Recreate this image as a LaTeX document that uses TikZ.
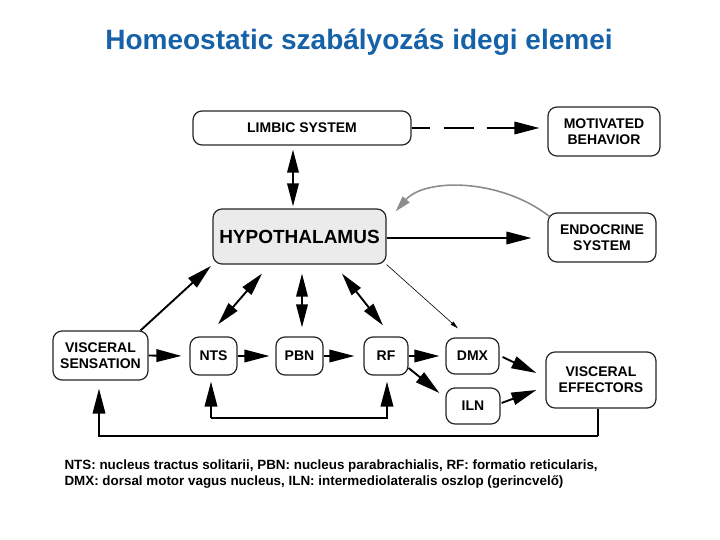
\documentclass[tikz,border=0pt]{standalone}
\usepackage{fontspec}
\setmainfont{Liberation Sans}
\usetikzlibrary{arrows.meta}
\definecolor{titleblue}{RGB}{22,98,168}
\tikzset{
  box/.style={draw=black!85, line width=1.2pt, rounded corners=9pt, fill=white,
    font=\bfseries\fontsize{14}{16}\selectfont, align=center, inner sep=0pt},
  arr/.style={line width=1.9pt, -{Triangle[length=25pt,width=12.5pt]}},
  dbl/.style={line width=1.9pt, {Triangle[length=23pt,width=11.5pt]}-{Triangle[length=23pt,width=11.5pt]}},
  thinarr/.style={line width=0.6pt, -{Triangle[length=8pt,width=4pt]}},
  grayarr/.style={draw=black!45, line width=1.6pt, -{Triangle[length=16pt,width=9pt]}, black!45},
}
\begin{document}
\begin{tikzpicture}[x=1pt,y=-1pt]
\useasboundingbox (0,0) rectangle (720,540);
\node[font=\bfseries\fontsize{28}{30}\selectfont, text=titleblue] (title) at (359,42) {Homeostatic szabályozás idegi elemei};

\node[box, minimum width=218pt, minimum height=34pt] (limbic) at (302,128) {LIMBIC SYSTEM};
\node[box, minimum width=112pt, minimum height=49pt] (motiv) at (604,131.5) {MOTIVATED\\BEHAVIOR};
\node[box, fill=black!8, minimum width=173pt, minimum height=55pt, font=\bfseries\fontsize{19}{21}\selectfont] (hypo) at (299.5,236.5) {HYPOTHALAMUS};
\node[box, minimum width=108pt, minimum height=49pt] (endo) at (602,237.5) {ENDOCRINE\\SYSTEM};
\node[box, minimum width=95pt, minimum height=49pt] (vsens) at (100.5,355.5) {VISCERAL\\SENSATION};
\node[box, minimum width=47pt, minimum height=38pt] (nts) at (213.5,356) {NTS};
\node[box, minimum width=47pt, minimum height=38pt] (pbn) at (299.5,356) {PBN};
\node[box, minimum width=44pt, minimum height=38pt] (rf) at (386,356) {RF};
\node[box, minimum width=53pt, minimum height=36pt] (dmx) at (472.5,356) {DMX};
\node[box, minimum width=54pt, minimum height=36pt] (iln) at (473,406) {ILN};
\node[box, minimum width=110pt, minimum height=56pt] (veff) at (601,380) {VISCERAL\\EFFECTORS};

% limbic -> motivated (dashed)
\draw[arr, dash pattern=on 18pt off 14pt on 30pt off 13pt on 40pt, shorten >=8pt] (limbic.east) -- (motiv.west |- limbic.east);
% limbic <-> hypothalamus
\draw[dbl, shorten <=4pt, shorten >=2pt] ([xshift=-9pt]limbic.south) -- ([xshift=-9pt]limbic.south |- hypo.north);
% endocrine -> hypothalamus (gray curve)
\draw[grayarr] ([xshift=2pt,yshift=-4pt]endo.north west) .. controls (500,178) and (425,178) .. ([xshift=9pt,yshift=-3pt]hypo.north east);
% hypothalamus -> endocrine
\draw[arr, shorten >=16pt] ([yshift=-1.5pt]hypo.east) -- ([yshift=-1.5pt]endo.west |- hypo.east);
% visceral sensation -> hypothalamus
\draw[arr, shorten >=2pt] ([xshift=-8pt]vsens.north east) -- (hypo.south west);
% nuclei <-> hypothalamus
\draw[dbl] ([xshift=4.5pt,yshift=12pt]nts.north) -- ([xshift=-37.5pt,yshift=-9pt]hypo.south);
\draw[dbl] ([xshift=2.5pt,yshift=9pt]pbn.north) -- ([xshift=2.5pt,yshift=-9pt]hypo.south);
\draw[dbl] ([xshift=-3pt,yshift=11pt]rf.north) -- ([xshift=42.5pt,yshift=-9pt]hypo.south);
% hypothalamus -> DMX thin
\draw[thinarr] (hypo.south east) -- ([xshift=-14.5pt,yshift=9pt]dmx.north);
% horizontal chain
\draw[arr, shorten >=8pt] (vsens.east) -- (nts.west);
\draw[arr, shorten >=6pt] (nts.east) -- (pbn.west);
\draw[arr, shorten >=9pt] (pbn.east) -- (rf.west);
\draw[arr, shorten >=6pt] (rf.east) -- (dmx.west);
\draw[arr] ([yshift=-12pt]rf.east) -- ([xshift=-6pt,yshift=13pt]iln.west);
\draw[arr] ([xshift=3pt,yshift=-1pt]dmx.east) -- ([xshift=-9pt,yshift=7pt]veff.west);
\draw[arr] ([xshift=1pt,yshift=3pt]iln.east) -- ([xshift=-9pt,yshift=-10pt]veff.west);
% loops
\coordinate (loopA) at ([xshift=-2.5pt,yshift=-42pt]nts.south);
\draw[arr, shorten >=6pt] (loopA) -- ([xshift=-2.5pt]nts.south);
\draw[arr, shorten >=6pt] (loopA) -| ([xshift=1pt]rf.south);
\coordinate (loopB) at ([xshift=-3pt,yshift=-27pt]veff.south);
\draw[line width=1.9pt] ([xshift=-3pt]veff.south) -- (loopB);
\draw[arr, shorten >=8pt] (loopB) -| ([xshift=-1.5pt]vsens.south);

\node[anchor=base west, align=left, font=\bfseries\fontsize{13.4}{15.2}\selectfont] (foot) at (61,485) {NTS: nucleus tractus solitarii, PBN: nucleus parabrachialis, RF: formatio reticularis,\\DMX: dorsal motor vagus nucleus, ILN: intermediolateralis oszlop (gerincvelő)};
\end{tikzpicture}
\end{document}
